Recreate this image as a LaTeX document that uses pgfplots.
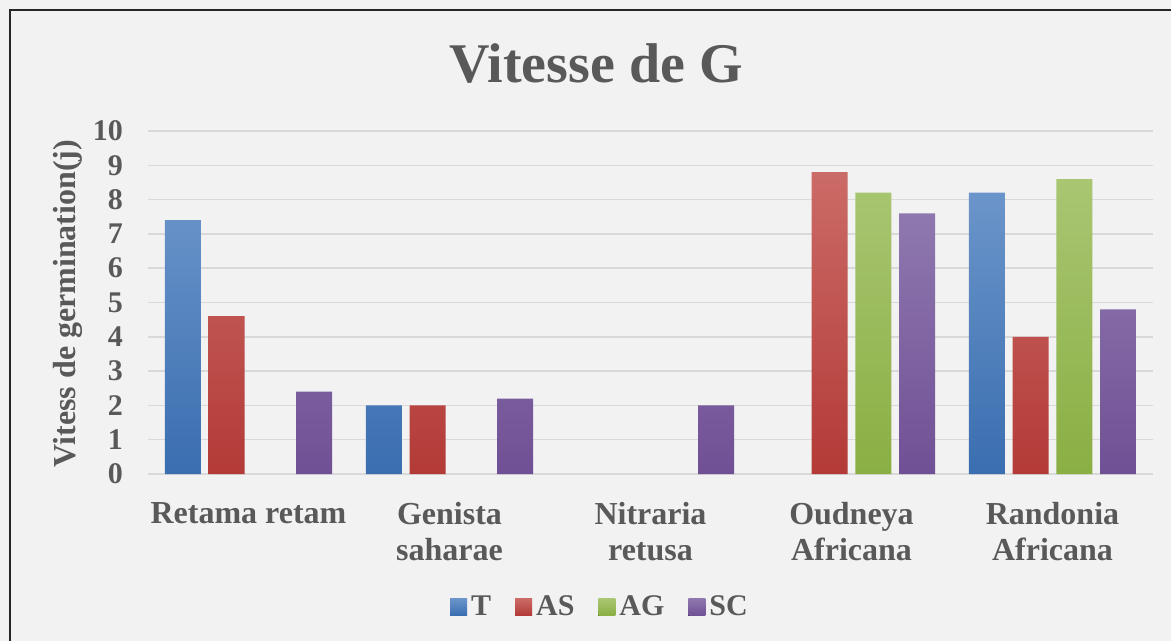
\documentclass[border=0pt]{standalone}
\usepackage{pgfplots}
\pgfplotsset{compat=1.18}
\usepackage{fontspec}
\setmainfont{Liberation Serif}
\definecolor{bg}{HTML}{F2F2F2}
\definecolor{txt}{HTML}{595959}
\definecolor{grd}{HTML}{D9D9D9}
\definecolor{Ttop}{HTML}{6B95CA}
\definecolor{Tbot}{HTML}{3A6EB0}
\definecolor{AStop}{HTML}{CB6B67}
\definecolor{ASbot}{HTML}{B33A37}
\definecolor{AGtop}{HTML}{A9C672}
\definecolor{AGbot}{HTML}{8AAF43}
\definecolor{SCtop}{HTML}{8F78AF}
\definecolor{SCbot}{HTML}{705095}
\begin{document}
\begin{tikzpicture}
\useasboundingbox (0,0) rectangle (585.5pt,-320.5pt);
\fill[bg] (0,0) rectangle (585.5pt,-320.5pt);
\draw[line width=1pt, black!85] (5pt,-321pt) -- (5pt,-5pt) -- (586pt,-5pt);
\node[anchor=base, font=\fontsize{28}{30}\selectfont\bfseries, text=txt] at (298pt,-41.5pt) {Vitesse de G};
\node[rotate=90, anchor=base, font=\fontsize{16}{18}\selectfont\bfseries, text=txt] at (37.5pt,-151.75pt) {Vitess de germination(j)};
\begin{axis}[at={(74pt,-237pt)}, anchor=south west, scale only axis,
  width=502.5pt, height=171.5pt,
  xmin=-0.5, xmax=4.5, ymin=0, ymax=10,
  ybar=3.85pt, bar width=18pt,
  axis line style={draw=none},
  ymajorgrids, grid style={grd, line width=0.75pt},
  major tick length=0pt,
  ytick={0,1,...,10}, xtick={0,1,2,3,4},
  xticklabels={Retama retam, {Genista\\saharae}, {Nitraria\\retusa}, {Oudneya\\Africana}, {Randonia\\Africana}},
  x tick label style={align=center, font=\fontsize{16}{18}\selectfont\bfseries, text=txt, yshift=-10.5pt},
  y tick label style={font=\fontsize{15}{16}\selectfont\bfseries, text=txt, xshift=-9pt},
  /pgf/number format/assume math mode=true,
  legend columns=4,
  legend style={at={(axis description cs:0.4507,-0.3878)}, anchor=center, draw=none, fill=none,
    font=\fontsize{15}{16}\selectfont\bfseries, text=txt,
    /tikz/every even column/.append style={column sep=10pt}},
  legend image code/.code={\fill[#1] (0pt,-4.25pt) rectangle (8.5pt,4.25pt);},
]
\addplot[draw=none, top color=Ttop, bottom color=Tbot] coordinates {(0,7.4) (1,2.0) (4,8.2)};
\addplot[draw=none, top color=AStop, bottom color=ASbot] coordinates {(0,4.6) (1,2.0) (3,8.8) (4,4.0)};
\addplot[draw=none, top color=AGtop, bottom color=AGbot] coordinates {(3,8.2) (4,8.6)};
\addplot[draw=none, top color=SCtop, bottom color=SCbot] coordinates {(0,2.4) (1,2.2) (2,2.0) (3,7.6) (4,4.8)};
\legend{T, AS, AG, SC}
\end{axis}
\end{tikzpicture}
\end{document}
